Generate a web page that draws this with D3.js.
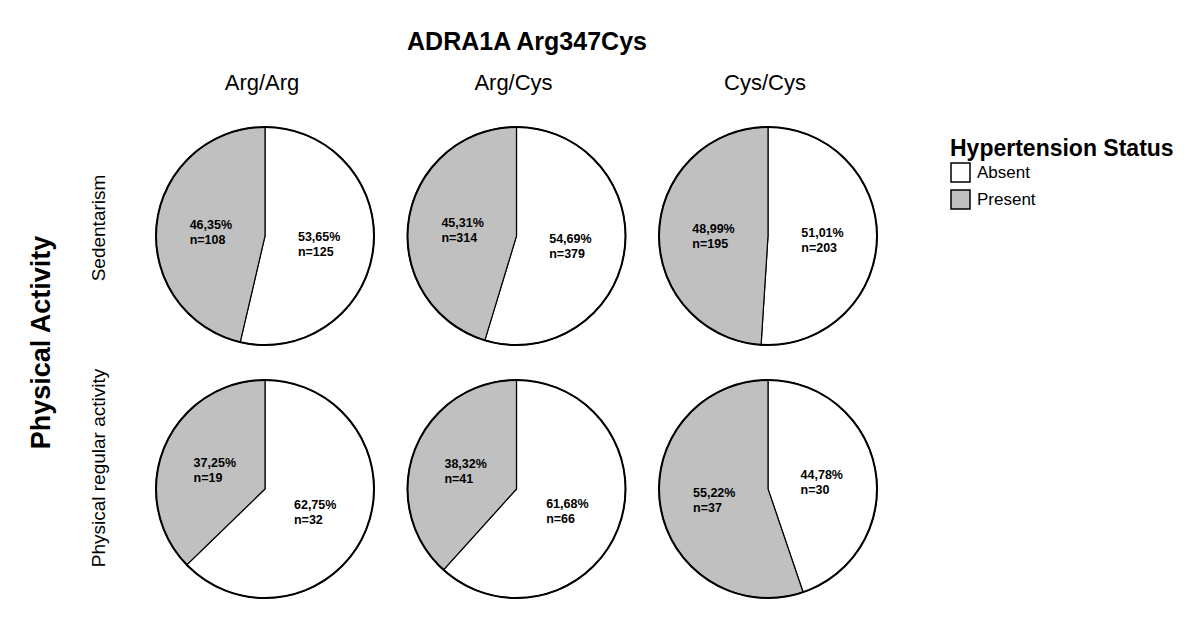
<!DOCTYPE html>
<html>
<head>
<meta charset="utf-8">
<script src="https://cdn.jsdelivr.net/npm/d3@7"></script>
<style>
    body { margin: 0; background: #fff; }
    svg { font-family: "Liberation Sans", Arial, sans-serif; }
</style>
</head>
<body>
<svg id="chart"></svg>
<script>
const genotypes = ["Arg/Arg", "Arg/Cys", "Cys/Cys"];
const activities = ["Sedentarism", "Physical regular activity"];
const statuses = ["Absent", "Present"];

// per activity row, per genotype column
const absentPct = [[53.65, 54.69, 51.01], [62.75, 61.68, 44.78]];
const presentPct = [[46.35, 45.31, 48.99], [37.25, 38.32, 55.22]];
const absentN = [[125, 379, 203], [32, 66, 30]];
const presentN = [[108, 314, 195], [19, 41, 37]];

const COLORS = {
    "Absent": "#ffffff",
    "Present": "#c0c0c0",
}

const width = 1200, height = 622;
const r = 109;

let svg = d3.select("#chart")
    .attr("width", width)
    .attr("height", height);

let scX = d3.scalePoint()
    .domain(genotypes)
    .range([265, 768]);

let scY = d3.scalePoint()
    .domain(activities)
    .range([236, 489]);

const fmt = v => d3.format(".2f")(v).replace(".", ",");

// title
svg.append("text")
    .attr("x", 527)
    .attr("y", 50)
    .attr("text-anchor", "middle")
    .style("font-size", "25px")
    .style("font-weight", "bold")
    .text("ADRA1A Arg347Cys");

// column headers
svg.selectAll(".colhead")
    .data(genotypes)
    .enter()
    .append("text")
    .attr("x", d => scX(d) - 3)
    .attr("y", 90)
    .attr("text-anchor", "middle")
    .style("font-size", "22px")
    .text(d => d);

// row labels
const rowShift = [-8, -21];
svg.selectAll(".rowhead")
    .data(activities)
    .enter()
    .append("text")
    .attr("transform", (d, i) => `translate(105, ${scY(d) + rowShift[i]}) rotate(-90)`)
    .attr("text-anchor", "middle")
    .style("font-size", "19px")
    .text(d => d);

svg.append("text")
    .attr("transform", `translate(50, ${(scY.range()[0] + scY.range()[1]) / 2 - 20}) rotate(-90)`)
    .attr("text-anchor", "middle")
    .style("font-size", "27px")
    .style("font-weight", "bold")
    .text("Physical Activity");

// pies
let pie = d3.pie().sort(null).value(d => d.pct);
let arc = d3.arc().innerRadius(0).outerRadius(r);
let labelArc = d3.arc().innerRadius(r * 0.5).outerRadius(r * 0.5);

activities.forEach((act, i) => {
    genotypes.forEach((gen, j) => {
        let data = [
            {status: "Absent", pct: absentPct[i][j], n: absentN[i][j]},
            {status: "Present", pct: presentPct[i][j], n: presentN[i][j]}
        ];
        let g = svg.append("g")
            .attr("transform", `translate(${scX(gen)}, ${scY(act)})`);

        g.selectAll("path")
            .data(pie(data))
            .enter()
            .append("path")
            .attr("d", arc)
            .attr("fill", d => COLORS[d.data.status])
            .attr("stroke", "#000")
            .attr("stroke-width", 1.2);

        g.append("circle")
            .attr("r", r)
            .attr("fill", "none")
            .attr("stroke", "#000")
            .attr("stroke-width", 2);

        // labels: two lines, left aligned, block centred on the arc centroid
        let lab = g.selectAll(".lab")
            .data(pie(data))
            .enter()
            .append("text")
            .style("font-size", "12.5px")
            .style("font-weight", "bold");
        lab.append("tspan")
            .attr("class", "pct")
            .attr("x", 0)
            .attr("y", 0)
            .text(d => fmt(d.data.pct) + "%");
        lab.append("tspan")
            .attr("x", 0)
            .attr("y", 15)
            .text(d => "n=" + d.data.n);
        lab.attr("transform", function(d) {
            let [x, y] = labelArc.centroid(d);
            let w = d3.select(this).select(".pct").node().getComputedTextLength();
            return `translate(${x - w / 2}, ${y - 1})`;
        });
    });
});

// legend
let legend = svg.append("g").attr("transform", "translate(950, 0)");
legend.append("text")
    .attr("x", 0)
    .attr("y", 156)
    .style("font-size", "23px")
    .style("font-weight", "bold")
    .text("Hypertension Status");

statuses.forEach((s, i) => {
    legend.append("rect")
        .attr("x", 1)
        .attr("y", 163 + i * 27)
        .attr("width", 19)
        .attr("height", 19)
        .attr("fill", COLORS[s])
        .attr("stroke", "#000")
        .attr("stroke-width", 1.5);
    legend.append("text")
        .attr("x", 27)
        .attr("y", 178 + i * 27)
        .style("font-size", "17px")
        .text(s);
});
</script>
</body>
</html>
